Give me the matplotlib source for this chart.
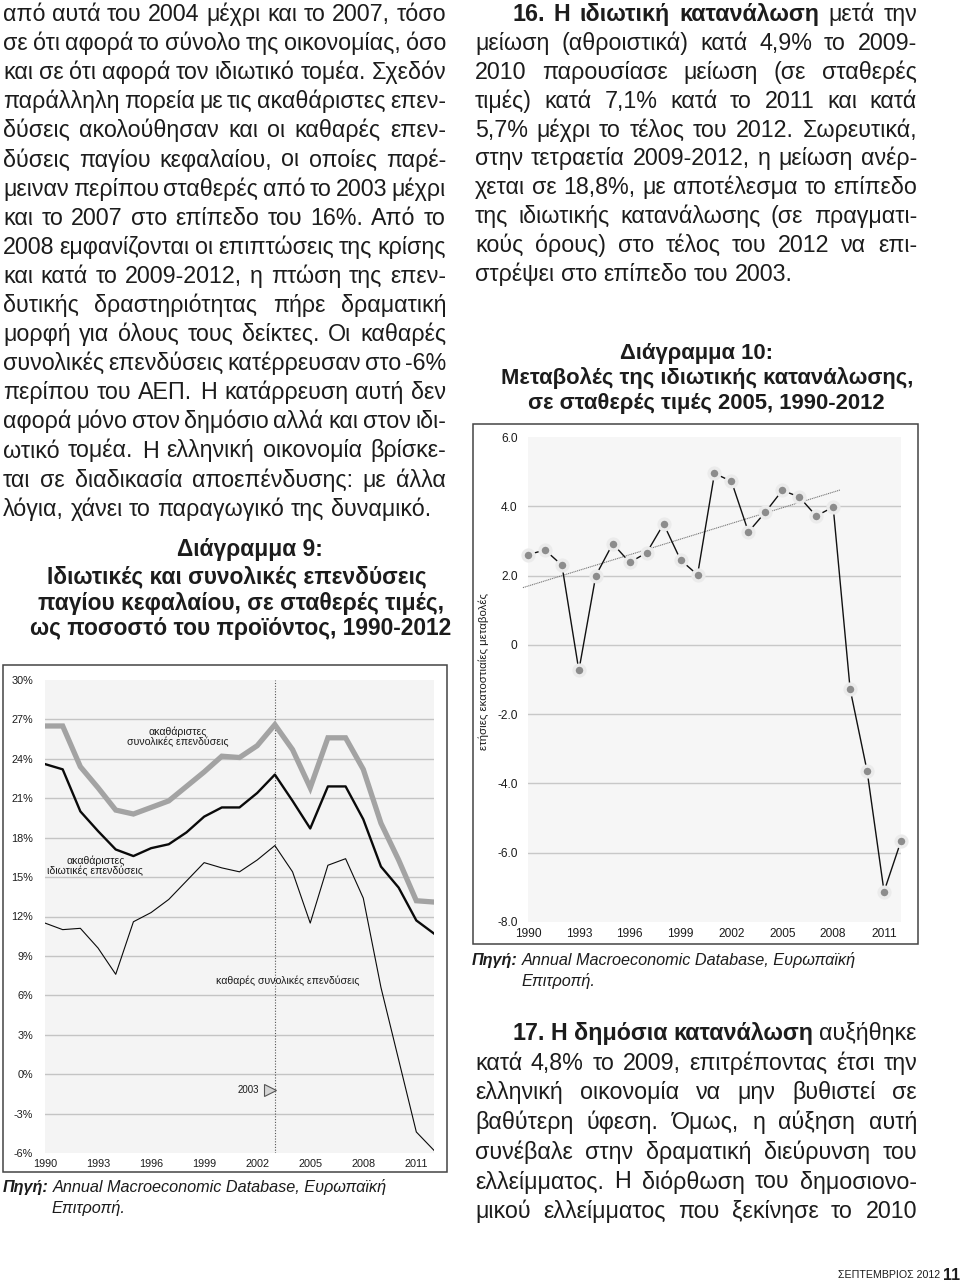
import numpy as np
import matplotlib
matplotlib.use('Agg')
from matplotlib import pyplot as plt
from matplotlib import font_manager
from matplotlib.patches import Rectangle

plt.rcParams['font.family'] = ['Liberation Sans', 'DejaVu Sans']

# ---- data: Διάγραμμα 9 (% του ΑΕΠ)
years = list(range(1990, 2013))
gross_total = [26.5, 26.5, 23.4, 21.8, 20.1, 19.8, 20.3, 20.8, 21.9, 23.0, 24.2, 24.1,
               25.0, 26.6, 24.7, 21.8, 25.6, 25.6, 23.2, 19.1, 16.3, 13.2, 13.1]
gross_private = [23.6, 23.2, 20.0, 18.5, 17.1, 16.6, 17.2, 17.5, 18.4, 19.6, 20.3, 20.3,
                 21.4, 22.8, 20.8, 18.7, 21.9, 21.9, 19.4, 15.8, 14.2, 11.7, 10.7]
net_total = [11.5, 11.0, 11.1, 9.6, 7.6, 11.6, 12.3, 13.3, 14.7, 16.1, 15.7, 15.4,
             16.3, 17.4, 15.4, 11.5, 15.9, 16.4, 13.4, 6.6, 1.1, -4.4, -5.8]
pct_ticks = [30, 27, 24, 21, 18, 15, 12, 9, 6, 3, 0, -3, -6]
year_ticks = [1990, 1993, 1996, 1999, 2002, 2005, 2008, 2011]

# ---- data: Διάγραμμα 10 (ετήσιες μεταβολές ιδιωτικής κατανάλωσης)
consumption = [2.60, 2.74, 2.30, -0.74, 2.00, 2.92, 2.38, 2.66, 3.49, 2.45, 2.02, 4.95,
               4.72, 3.26, 3.83, 4.46, 4.27, 3.72, 3.98, -1.28, -3.64, -7.12, -5.66]
trend_years = list(range(1990, 2009))
chg_ticks = [6, 4, 2, 0, -2, -4, -6, -8]
chg_labels = ['6.0', '4.0', '2.0', '0', '-2.0', '-4.0', '-6.0', '-8.0']

# ---- κείμενο σελίδας
left_par = [
    'από αυτά του 2004 μέχρι και το 2007, τόσο',
    'σε ότι αφορά το σύνολο της οικονομίας, όσο',
    'και σε ότι αφορά τον ιδιωτικό τομέα. Σχεδόν',
    'παράλληλη πορεία με τις ακαθάριστες επεν-',
    'δύσεις ακολούθησαν και οι καθαρές επεν-',
    'δύσεις παγίου κεφαλαίου, οι οποίες παρέ-',
    'μειναν περίπου σταθερές από το 2003 μέχρι',
    'και το 2007 στο επίπεδο του 16%. Από το',
    '2008 εμφανίζονται οι επιπτώσεις της κρίσης',
    'και κατά το 2009-2012, η πτώση της επεν-',
    'δυτικής δραστηριότητας πήρε δραματική',
    'μορφή για όλους τους δείκτες. Οι καθαρές',
    'συνολικές επενδύσεις κατέρρευσαν στο -6%',
    'περίπου του ΑΕΠ. Η κατάρρευση αυτή δεν',
    'αφορά μόνο στον δημόσιο αλλά και στον ιδι-',
    'ωτικό τομέα. Η ελληνική οικονομία βρίσκε-',
    'ται σε διαδικασία αποεπένδυσης: με άλλα',
    'λόγια, χάνει το παραγωγικό της δυναμικό.',
]
par16_bold = '16. Η ιδιωτική κατανάλωση'
par16 = [
    'μετά την',
    'μείωση (αθροιστικά) κατά 4,9% το 2009-',
    '2010 παρουσίασε μείωση (σε σταθερές',
    'τιμές) κατά 7,1% κατά το 2011 και κατά',
    '5,7% μέχρι το τέλος του 2012. Σωρευτικά,',
    'στην τετραετία 2009-2012, η μείωση ανέρ-',
    'χεται σε 18,8%, με αποτέλεσμα το επίπεδο',
    'της ιδιωτικής κατανάλωσης (σε πραγματι-',
    'κούς όρους) στο τέλος του 2012 να επι-',
    'στρέψει στο επίπεδο του 2003.',
]
par17_bold = '17. Η δημόσια κατανάλωση'
par17 = [
    'αυξήθηκε',
    'κατά 4,8% το 2009, επιτρέποντας έτσι την',
    'ελληνική οικονομία να μην βυθιστεί σε',
    'βαθύτερη ύφεση. Όμως, η αύξηση αυτή',
    'συνέβαλε στην δραματική διεύρυνση του',
    'ελλείμματος. Η διόρθωση του δημοσιονο-',
    'μικού ελλείμματος που ξεκίνησε το 2010',
]
title9 = ['Διάγραμμα 9:', 'Ιδιωτικές και συνολικές επενδύσεις',
          'παγίου κεφαλαίου, σε σταθερές τιμές,', 'ως ποσοστό του προϊόντος, 1990-2012']
title10 = ['Διάγραμμα 10:', 'Μεταβολές της ιδιωτικής κατανάλωσης,',
           'σε σταθερές τιμές 2005, 1990-2012']
source_head = 'Πηγή:'
source_rest = 'Annual Macroeconomic Database, Ευρωπαϊκή'
source_tail = 'Επιτροπή.'

ink = '#1c1c1c'

fig = plt.figure(figsize=(9.6, 12.85), dpi=100)
page = fig.add_axes([0, 0, 1, 1])
page.set_xlim(0, 960)
page.set_ylim(1285, 0)
page.axis('off')
renderer = fig.canvas.get_renderer()


def width_of(txt, size, weight='normal', style='normal', family=None):
    kw = {}
    if family:
        kw['family'] = family
    t = page.text(0, 0, txt, fontsize=size, fontweight=weight, fontstyle=style, **kw)
    w = t.get_window_extent(renderer).width
    t.remove()
    return w


def put_line(words, x0, x1, y, size, justify=True):
    objs = []
    for w, wt in words:
        objs.append(page.text(0, y, w, fontsize=size, fontweight=wt, va='baseline',
                              ha='left', color=ink))
    ws = [o.get_window_extent(renderer).width for o in objs]
    space = width_of('a a', size) - width_of('aa', size)
    if justify and len(objs) > 1:
        gap = max((x1 - x0 - sum(ws)) / (len(objs) - 1), 0.55 * space)
    else:
        gap = space
    x = x0
    for o, w in zip(objs, ws):
        o.set_x(x)
        x += w + gap


def natural(words, size):
    space = width_of('a a', size) - width_of('aa', size)
    return sum(width_of(w, size, wt) for w, wt in words) + space * (len(words) - 1)


def para_words(lines, bold_head=None):
    out = []
    for i, ln in enumerate(lines):
        ws = [(w, 'normal') for w in ln.split()]
        if i == 0 and bold_head:
            ws = [(w, 'bold') for w in bold_head.split()] + ws
        out.append(ws)
    return out


left_words = para_words(left_par)
p16_words = para_words(par16, par16_bold)
p17_words = para_words(par17, par17_bold)

# μέγεθος γραμματοσειράς από το πλάτος στήλης
col_w = 443.0
probe = max(natural(w, 10) for w in left_words[:-1])
body = 10 * col_w / probe * 1.035

for i, ws in enumerate(left_words):
    put_line(ws, 3, 446, 21 + 29.1 * i, body, justify=i < len(left_words) - 1)
for i, ws in enumerate(p16_words):
    x0 = 512 if i == 0 else 475
    put_line(ws, x0, 917, 21 + 28.9 * i, body, justify=i < len(p16_words) - 1)
for i, ws in enumerate(p17_words):
    x0 = 512 if i == 0 else 475
    put_line(ws, x0, 917, 1040 + 29.7 * i, body, justify=True)

# τίτλοι διαγραμμάτων
t9 = 10 * (397 + 407 + 395) / sum(width_of(ln, 10, 'bold') for ln in title9[1:])
for ln, xc, yb in zip(title9, [250, 237, 241, 241], [556, 583, 610, 635]):
    page.text(xc, yb, ln, fontsize=t9, fontweight='bold', ha='center', va='baseline', color=ink)
t10 = 10 * 410 / width_of(title10[1], 10, 'bold')
for ln, xc, yb in zip(title10, [697, 707, 706], [359, 384, 409]):
    page.text(xc, yb, ln, fontsize=t10, fontweight='bold', ha='center', va='baseline', color=ink)

# πηγές
src_size = 10 * 385 / (width_of(source_head + ' ', 10, 'bold', 'italic') + width_of(source_rest, 10, style='italic'))
head_w = width_of(source_head + ' ', src_size, 'bold', 'italic')
for sx, sy in ((3, 1192), (472, 965)):
    page.text(sx, sy, source_head, fontsize=src_size, fontweight='bold',
              fontstyle='italic', va='baseline', color=ink)
    page.text(sx + head_w, sy, source_rest, fontsize=src_size,
              fontstyle='italic', va='baseline', color=ink)
    page.text(sx + 49, sy + 21, source_tail, fontsize=src_size,
              fontstyle='italic', va='baseline', color=ink)

# υποσέλιδο
try:
    font_manager.findfont('Liberation Sans Narrow', fallback_to_default=False)
    narrow = 'Liberation Sans Narrow'
except Exception:
    narrow = 'Liberation Sans'
foot = 'ΣΕΠΤΕΜΒΡΙΟΣ 2012'
fs = 10 * 102 / width_of(foot, 10, family=narrow)
page.text(838, 1278, foot, fontsize=fs, family=narrow, va='baseline', color=ink)
fs11 = 10 * 17 / width_of('11', 10, 'bold', family=narrow)
page.text(943, 1280, '11', fontsize=fs11, family=narrow, fontweight='bold', va='baseline', color=ink)

# πλαίσια διαγραμμάτων
page.add_patch(Rectangle((3, 665), 444, 507, fill=False, ec='#444444', lw=1.1))
page.add_patch(Rectangle((473, 424), 445, 520, fill=False, ec='#444444', lw=1.1))


def px_axes(x0, x1, ytop, ybot):
    return fig.add_axes([x0 / 960, 1 - ybot / 1285, (x1 - x0) / 960, (ybot - ytop) / 1285])


# ---- Διάγραμμα 9
ax = px_axes(45, 434, 680, 1153)
ax.set_facecolor('#f4f4f4')
ax.set_xlim(1990, 2012)
ax.set_ylim(-6, 30)
for s in ax.spines.values():
    s.set_visible(False)
for v in pct_ticks[1:-1]:
    ax.axhline(v, color='#c4c4c4', lw=1.0, zorder=1)
ax.axvline(2003, color='#555555', lw=0.8, ls=(0, (1, 1.5)), zorder=2)
ax.plot(years, gross_total, color='#a3a3a3', lw=3.8, solid_joinstyle='miter', zorder=3)
ax.plot(years, gross_private, color='#0a0a0a', lw=1.7, zorder=4)
ax.plot(years, net_total, color='#0a0a0a', lw=0.8, zorder=4)
ax.set_yticks(pct_ticks)
ax.set_yticklabels(['%d%%' % v for v in pct_ticks])
ax.set_xticks(year_ticks)
ax.tick_params(axis='y', length=0, pad=8.5, labelsize=7.8, labelcolor=ink)
ax.tick_params(axis='x', length=0, pad=4.0, labelsize=7.8, labelcolor=ink)
ax.text(1997.5, 25.7, 'ακαθάριστες\nσυνολικές επενδύσεις', fontsize=7.6, ha='center',
        va='center', linespacing=0.95, color=ink, zorder=5)
ax.text(1992.85, 15.85, 'ακαθάριστες\nιδιωτικές επενδύσεις', fontsize=7.6, ha='center',
        va='center', linespacing=0.95, color=ink, zorder=5)
ax.text(2003.7, 7.1, 'καθαρές συνολικές επενδύσεις', fontsize=7.6, ha='center',
        va='center', color=ink, zorder=5)
ax.plot([2002.75], [-1.2], marker='>', ms=9, mfc='#d4d4d4', mec='#555555', mew=0.8, zorder=5)
ax.text(2002.1, -1.2, '2003', fontsize=7.0, ha='right', va='center', color=ink, zorder=5)

# ---- Διάγραμμα 10
bx = px_axes(528, 901, 437, 922)
bx.set_facecolor('#f6f6f6')
bx.set_xlim(1990, 2012)
bx.set_ylim(-8, 6)
for s in bx.spines.values():
    s.set_visible(False)
for v in chg_ticks[1:-1]:
    bx.axhline(v, color='#c8c8c8', lw=1.0, zorder=1)
coef = np.polyfit(trend_years, consumption[:len(trend_years)], 1)
tx = np.array([1989.7, 2008.4])
bx.plot(tx, np.polyval(coef, tx), color='#777777', lw=0.8, ls=(0, (1, 0.7)), zorder=2, clip_on=False)
bx.plot(years, consumption, color='#111111', lw=1.0, zorder=3, clip_on=False)
bx.plot(years, consumption, ls='none', marker='o', ms=7.8, mfc='#8c8c8c', mec='#ebebeb',
        mew=2.4, zorder=4, clip_on=False)
bx.set_yticks(chg_ticks)
bx.set_yticklabels(chg_labels)
bx.set_xticks(year_ticks)
bx.tick_params(axis='y', length=0, pad=7.5, labelsize=8.6, labelcolor=ink)
bx.tick_params(axis='x', length=0, pad=4.5, labelsize=8.6, labelcolor=ink)
page.text(484, 672, 'ετήσιες εκατοστιαίες μεταβολές', rotation=90, fontsize=8.2,
          ha='center', va='center', color=ink)

fig.savefig('out.png', dpi=100)
